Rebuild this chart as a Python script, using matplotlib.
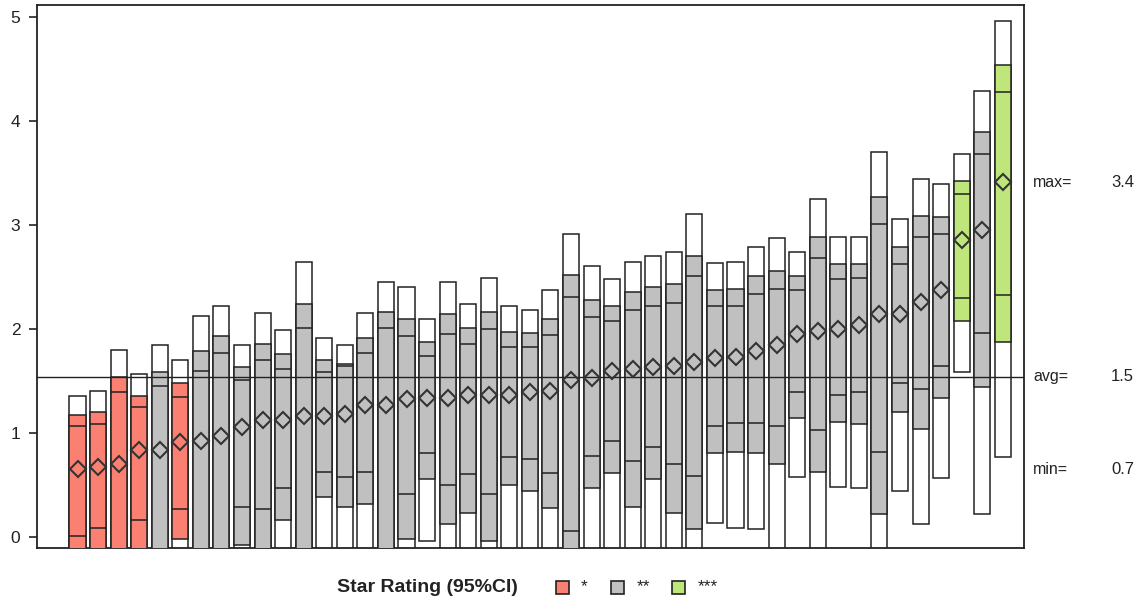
import matplotlib
matplotlib.use("Agg")
import matplotlib.pyplot as plt
from matplotlib.patches import Rectangle
from matplotlib.transforms import blended_transform_factory

plt.rcParams['font.family'] = ['Liberation Sans', 'DejaVu Sans']

# Per-unit estimates: outer interval, coloured interval, inner marks, point estimate
outer_hi = [1.357, 1.405, 1.80, 1.567, 1.84, 1.70, 2.12, 2.223, 1.84, 2.15,
            1.99, 2.646, 1.907, 1.84, 2.148, 2.447, 2.40, 2.09, 2.447, 2.24,
            2.488, 2.223, 2.179, 2.371, 2.91, 2.60, 2.474, 2.646, 2.704, 2.735,
            3.106, 2.632, 2.646, 2.784, 2.869, 2.735, 3.251, 2.887, 2.887, 3.70,
            3.058, 3.443, 3.392, 3.684, 4.285, 4.962]
band_hi = [1.168, 1.199, 1.536, 1.357, 1.58, 1.478, 1.787, 1.93, 1.63, 1.856,
           1.753, 2.24, 1.70, 1.656, 1.907, 2.165, 2.09, 1.873, 2.137, 2.007,
           2.165, 1.973, 1.959, 2.093, 2.515, 2.28, 2.223, 2.354, 2.402, 2.43,
           2.704, 2.371, 2.385, 2.505, 2.56, 2.505, 2.887, 2.619, 2.619, 3.27,
           2.784, 3.089, 3.076, 3.419, 3.897, 4.536]
inner_hi = [1.065, 1.082, 1.39, 1.244, 1.45, 1.347, 1.594, 1.77, 1.51, 1.70,
            1.61, 2.01, 1.58, 1.64, 1.77, 2.007, 1.93, 1.742, 1.948, 1.856,
            1.993, 1.828, 1.828, 1.942, 2.309, 2.11, 2.079, 2.179, 2.223, 2.251,
            2.505, 2.223, 2.223, 2.337, 2.385, 2.371, 2.68, 2.474, 2.491, 3.007,
            2.619, 2.887, 2.911, 3.296, 3.677, 4.275]
estimate = [0.65, 0.67, 0.70, 0.83, 0.83, 0.907, 0.917, 0.969, 1.055, 1.124,
            1.124, 1.158, 1.158, 1.175, 1.27, 1.27, 1.32, 1.337, 1.337, 1.364,
            1.364, 1.364, 1.392, 1.405, 1.509, 1.526, 1.594, 1.612, 1.629, 1.639,
            1.684, 1.715, 1.732, 1.784, 1.845, 1.948, 1.976, 1.993, 2.034, 2.137,
            2.137, 2.258, 2.371, 2.852, 2.952, 3.409]
inner_lo = [0.007, 0.086, -0.35, 0.155, -0.2, 0.265, -0.25, -0.35, 0.28, 0.265,
            0.47, -0.25, 0.625, 0.574, 0.625, -0.15, 0.409, 0.804, 0.495, 0.598,
            0.409, 0.763, 0.746, 0.615, 0.052, 0.773, 0.918, 0.729, 0.866, 0.701,
            0.584, 1.065, 1.096, 1.096, 1.065, 1.392, 1.021, 1.364, 1.392, 0.814,
            1.478, 1.423, 1.639, 2.299, 1.959, 2.326]
band_lo = [-0.35, -0.25, -0.8, -0.15, -0.6, -0.027, -0.7, -0.8, -0.08, -0.15,
           0.16, -0.75, 0.385, 0.28, 0.316, -0.6, -0.027, 0.557, 0.117, 0.23,
           -0.045, 0.495, 0.436, 0.275, -0.4, 0.464, 0.608, 0.289, 0.557, 0.23,
           0.076, 0.804, 0.814, 0.804, 0.701, 1.141, 0.625, 1.107, 1.079, 0.213,
           1.199, 1.038, 1.337, 2.079, 1.44, 1.873]
outer_lo = [-0.6, -0.5, -1.2, -0.45, -1.0, -0.3, -1.1, -1.2, -0.4, -0.5,
            -0.15, -1.2, -0.2, -0.2, -0.2, -1.0, -0.5, -0.045, -0.35, -0.2,
            -0.5, -0.15, -0.15, -0.25, -0.9, -0.15, -0.15, -0.3, -0.15, -0.3,
            -0.45, 0.127, 0.086, 0.076, -0.15, 0.574, -0.15, 0.481, 0.471, -0.6,
            0.436, 0.117, 0.564, 1.588, 0.22, 0.77]
stars = [1, 1, 1, 1, 2, 1, 2, 2, 2, 2,
         2, 2, 2, 2, 2, 2, 2, 2, 2, 2,
         2, 2, 2, 2, 2, 2, 2, 2, 2, 2,
         2, 2, 2, 2, 2, 2, 2, 2, 2, 2,
         2, 2, 2, 3, 2, 3]
average = 1.54

star_labels = ['*', '**', '***']
star_colors = ['#FA8072', '#C0C0C0', '#BEE67A']

edge = '#222222'
bar_w = 0.78
lw = 1.1

fig = plt.figure(figsize=(11.44, 6), dpi=100)
ax_left, ax_right = 37, 1024
ax = fig.add_axes([ax_left / 1144, 1 - 548 / 600,
                   (ax_right - ax_left) / 1144, 543 / 600])

for i in range(len(estimate)):
    x0 = i - bar_w / 2
    ax.add_patch(Rectangle((x0, outer_lo[i]), bar_w, outer_hi[i] - outer_lo[i],
                           facecolor='white', edgecolor=edge, linewidth=lw, zorder=2))
    ax.add_patch(Rectangle((x0, band_lo[i]), bar_w, band_hi[i] - band_lo[i],
                           facecolor=star_colors[stars[i] - 1], edgecolor=edge,
                           linewidth=lw, zorder=3))
    ax.hlines([inner_lo[i], inner_hi[i]], x0, x0 + bar_w, colors=edge,
              linewidth=lw, zorder=4)

ax.axhline(average, color='#222222', linewidth=1.0, zorder=5)

ax.plot(range(len(estimate)), estimate, linestyle='none', marker='D',
        markersize=8.5, markerfacecolor='none', markeredgecolor='#333333',
        markeredgewidth=1.5, zorder=6)

ax.set_xlim(-1.97, 46.03)
ax.set_ylim(-0.11, 5.115)
ax.set_xticks([])
ax.set_yticks([0, 1, 2, 3, 4, 5])
ax.tick_params(axis='y', direction='out', length=6, width=1.2, pad=6,
               labelsize=12.5, colors='#222222')
for s in ax.spines.values():
    s.set_linewidth(1.3)
    s.set_color('#222222')

# summary labels on the right of the frame
ax_w = ax_right - ax_left
tr = blended_transform_factory(ax.transAxes, ax.transData)
summary = [('max=', max(estimate)), ('avg=', average), ('min=', min(estimate))]
for name, val in summary:
    ax.text((1033 - ax_left) / ax_w, val, name, transform=tr, ha='left',
            va='center', fontsize=11.5, color='#222222', clip_on=False)
    ax.text((1134 - ax_left) / ax_w, val, f'{val:.1f}', transform=tr, ha='right',
            va='center', fontsize=12, color='#222222', clip_on=False)

# legend row
ly = 1 - 587 / 600
fig.text(337 / 1144, ly, 'Star Rating (95%CI)', ha='left', va='center',
         fontsize=14, fontweight='bold', color='#222222')
sq_x = [556, 611, 672]
lab_x = [581, 637, 698]
for sx, tx, lab, col in zip(sq_x, lab_x, star_labels, star_colors):
    fig.add_artist(Rectangle((sx / 1144, ly - 6.5 / 600), 13 / 1144, 13 / 600,
                             transform=fig.transFigure, facecolor=col,
                             edgecolor=edge, linewidth=1.2))
    fig.text(tx / 1144, ly, lab, ha='left', va='center', fontsize=12.5,
             color='#222222')

fig.savefig('out.png', dpi=100)
